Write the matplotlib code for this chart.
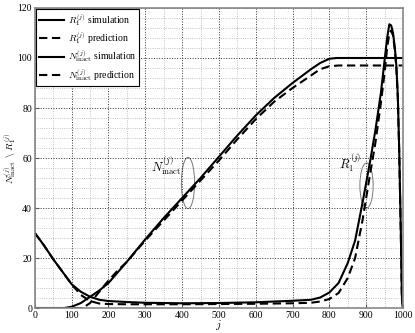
import numpy as np
import matplotlib
matplotlib.use("Agg")
import matplotlib.pyplot as plt
from matplotlib.patches import Ellipse
from matplotlib.ticker import MultipleLocator

plt.rcParams['font.family'] = 'Liberation Serif'
plt.rcParams['mathtext.fontset'] = 'cm'

# R1 values
j_R = [0, 25, 50, 75, 100, 125, 150, 175, 200, 250, 300, 400, 500, 600, 700, 750, 775,
       800, 825, 850, 870, 890, 910, 925, 940, 950, 957, 963, 968, 973, 978, 982, 986,
       990, 994, 997, 1000]
R_sim = [30, 25, 19.5, 14.5, 9.5, 6.5, 4.5, 3.3, 2.8, 2.4, 2.1, 1.9, 2.0, 2.3, 2.9, 3.3, 4.2,
         6.2, 10, 18, 27, 42, 58, 71, 86, 99, 108, 113.5, 113, 110, 104, 97, 85,
         62, 32, 5, 0]
R_pred = [30, 25, 19.5, 14.5, 9.5, 5.2, 2.8, 1.8, 1.6, 1.5, 1.5, 1.5, 1.6, 1.7, 1.9, 2.1, 2.6,
          3.6, 6, 12, 20, 35, 53, 66, 82, 94, 104, 110, 111, 109, 103, 96, 84,
          61, 31, 4, 0]

# N_inact values
j_Ns = [0, 80, 100, 125, 150, 175, 200, 250, 300, 350, 400, 450, 500, 550, 600, 650,
        700, 750, 775, 800, 820, 1000]
N_sim = [0, 0, 0.5, 2, 4.5, 7, 10, 18.5, 27.5, 36, 44, 52, 60.5, 69, 77, 84,
         90, 95.5, 98, 99.7, 100, 100]
j_Np = [0, 130, 150, 175, 200, 225, 250, 300, 350, 400, 450, 500, 550, 600, 650, 700,
        750, 775, 800, 825, 1000]
N_pred = [0, 0, 2, 6.5, 11, 15, 18.5, 27, 35, 43, 51, 59, 67.5, 75.5, 82.5, 88,
          93, 95.5, 96.7, 97, 97]

fig = plt.figure(figsize=(4.15, 3.33), dpi=100)
ax = fig.add_axes([0.084, 0.075, 0.887, 0.901])

dash = (4, 2.2)
ax.plot(j_R, R_sim, color='k', lw=1.5, label=r'$R_1^{(j)}$ simulation')
ax.plot(j_R, R_pred, color='k', lw=1.5, ls='--', dashes=dash, label=r'$R_1^{(j)}$ prediction')
ax.plot(j_Ns, N_sim, color='k', lw=1.5, label=r'$N_{\mathrm{inact}}^{(j)}$ simulation')
ax.plot(j_Np, N_pred, color='k', lw=1.5, ls='--', dashes=dash, label=r'$N_{\mathrm{inact}}^{(j)}$ prediction')

ax.set_xlim(0, 1000)
ax.set_ylim(0, 120)
ax.xaxis.set_major_locator(MultipleLocator(100))
ax.xaxis.set_minor_locator(MultipleLocator(50))
ax.yaxis.set_major_locator(MultipleLocator(20))
ax.yaxis.set_minor_locator(MultipleLocator(4))
ax.grid(which='major', ls=':', color='#333333', lw=0.7)
ax.grid(which='minor', ls=':', color='#b0b0b0', lw=0.6)
ax.tick_params(which='both', direction='in', labelsize=7, length=3, pad=2, color='#555555')
ax.tick_params(which='minor', length=0)
for s in ax.spines.values():
    s.set_color('#888888')
    s.set_linewidth(1.2)

ax.set_xlabel(r'$j$', fontsize=8.5, labelpad=-1)
ax.set_ylabel(r'$N^{(j)}_{\mathrm{inact}}\ \backslash\ R^{(j)}_1$', fontsize=7,
              va='center')
ax.yaxis.set_label_coords(-0.067, 0.5)

ax.add_patch(Ellipse((416, 50), 36, 20.5, fill=False, ec='#777777', lw=0.7))
ax.text(398, 57, r'$N^{(j)}_{\mathrm{inact}}$', ha='right', va='center', fontsize=9)
ax.add_patch(Ellipse((901, 49), 36, 18, fill=False, ec='#777777', lw=0.7))
ax.text(888, 58, r'$R^{(j)}_1$', ha='right', va='center', fontsize=9)

leg = ax.legend(loc='upper left', fontsize=7, handlelength=2.6, borderpad=0.3,
                labelspacing=0.25, handletextpad=0.4, borderaxespad=0.1,
                fancybox=False, framealpha=1)
leg.get_frame().set_edgecolor('k')
leg.get_frame().set_linewidth(0.8)

fig.savefig('out.png', dpi=100)
